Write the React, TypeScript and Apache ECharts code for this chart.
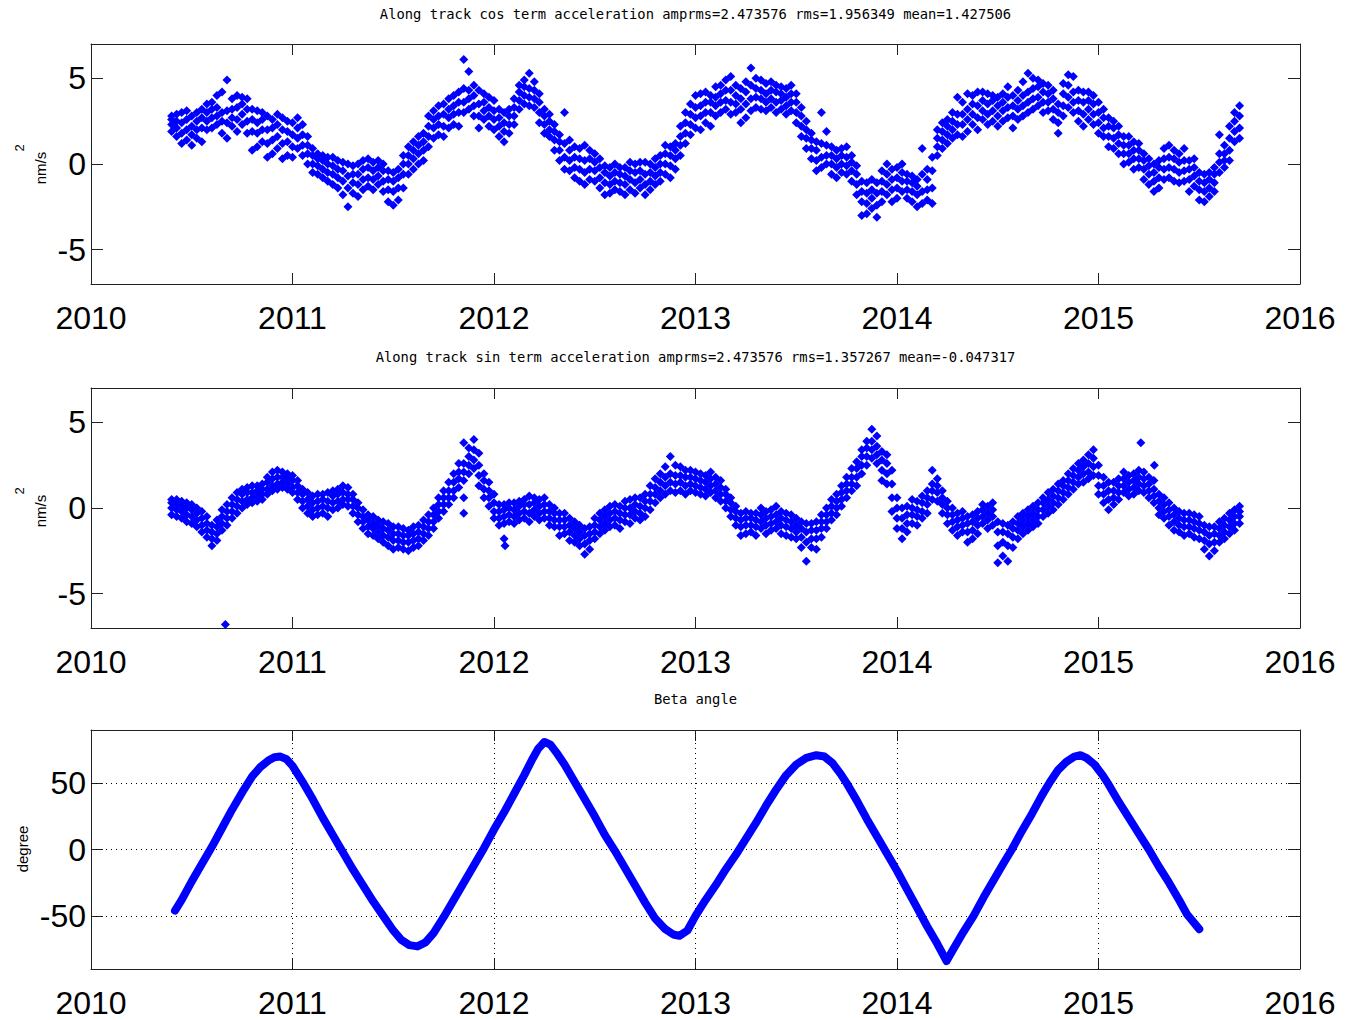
import React, { useEffect, useRef } from "react";
import * as echarts from "echarts";

const X_MIN = 2010;
const X_MAX = 2016;
const YEAR_GRID = [2011, 2012, 2013, 2014, 2015];
const ACC_TICKS = [-5, 0, 5];
const BETA_TICKS = [-50, 0, 50];
const TITLES = [
  "Along track cos term acceleration amprms=2.473576 rms=1.956349 mean=1.427506",
  "Along track sin term acceleration amprms=2.473576 rms=1.357267 mean=-0.047317",
  "Beta angle",
];

// [time, v1, v2, v3, v4] : points
const COS_ROWS: number[][] = [
  [2010.400, 1.9, 2.3, 2.6, 2.8], [2010.425, 1.6, 2.1, 2.5, 2.9], [2010.450, 1.2, 1.8, 2.4, 3.0],
  [2010.475, 1.4, 2.0, 2.6, 3.1], [2010.500, 1.1, 1.7, 2.2, 2.8], [2010.525, 1.5, 2.0, 2.5, 3.0],
  [2010.550, 1.3, 2.1, 2.7, 3.2], [2010.575, 2.0, 2.5, 3.0, 3.5], [2010.600, 2.1, 2.7, 3.2, 3.6],
  [2010.625, 2.3, 2.8, 3.3, 4.0], [2010.650, 1.8, 2.5, 3.0, 4.2], [2010.675, 1.5, 2.4, 3.1, 4.9],
  [2010.700, 2.2, 2.7, 3.2, 3.8], [2010.725, 1.9, 2.6, 3.3, 4.0], [2010.750, 2.3, 2.9, 3.5, 3.9],
  [2010.775, 1.8, 2.5, 3.2, 3.8], [2010.800, 0.8, 1.9, 2.6, 3.2], [2010.825, 1.0, 1.8, 2.4, 3.1],
  [2010.850, 1.3, 2.0, 2.6, 3.0], [2010.875, 0.4, 1.2, 2.0, 2.8], [2010.900, 0.6, 1.4, 2.1, 2.6],
  [2010.925, 0.9, 1.6, 2.3, 2.9], [2010.950, 0.3, 1.2, 2.0, 2.7], [2010.975, 0.5, 1.3, 1.9, 2.5],
  [2011.000, 0.4, 1.0, 1.7, 2.4], [2011.025, 0.9, 1.5, 2.1, 2.7], [2011.050, 0.5, 1.1, 1.7, 2.3],
  [2011.075, 0.0, 0.6, 1.1, 1.6], [2011.100, -0.5, 0.0, 0.5, 0.9], [2011.125, -0.6, -0.1, 0.3, 0.6],
  [2011.150, -0.8, -0.3, 0.2, 0.5], [2011.175, -1.0, -0.5, 0.0, 0.4], [2011.200, -1.2, -0.6, -0.1, 0.4],
  [2011.225, -1.4, -0.8, -0.3, 0.2], [2011.250, -1.8, -1.0, -0.4, 0.1], [2011.275, -2.5, -1.4, -0.7, 0.0],
  [2011.300, -1.7, -1.1, -0.6, -0.1], [2011.325, -1.9, -1.2, -0.6, 0.0], [2011.350, -1.5, -0.9, -0.3, 0.2],
  [2011.375, -1.3, -0.8, -0.2, 0.3], [2011.400, -1.5, -0.9, -0.4, 0.1], [2011.425, -1.2, -0.7, -0.2, 0.2],
  [2011.450, -1.6, -1.0, -0.4, 0.0], [2011.475, -2.2, -1.5, -0.9, -0.4], [2011.500, -2.4, -1.6, -1.0, -0.5],
  [2011.525, -2.1, -1.4, -0.8, -0.3], [2011.550, -1.4, -0.6, 0.0, 0.5], [2011.575, -0.6, 0.0, 0.5, 1.0],
  [2011.600, -0.3, 0.3, 0.8, 1.3], [2011.625, 0.0, 0.6, 1.1, 1.6], [2011.650, 0.2, 0.8, 1.3, 1.8],
  [2011.675, 1.0, 1.6, 2.2, 2.8], [2011.700, 1.5, 2.1, 2.6, 3.1], [2011.725, 1.7, 2.3, 2.8, 3.4],
  [2011.750, 1.6, 2.2, 2.9, 3.5], [2011.775, 2.1, 2.7, 3.2, 3.8], [2011.800, 2.3, 2.9, 3.4, 4.0],
  [2011.825, 2.2, 3.0, 3.6, 4.2], [2011.850, 3.0, 3.6, 4.4, 6.1], [2011.875, 3.2, 3.8, 4.3, 5.4],
  [2011.900, 2.8, 3.4, 4.0, 4.6], [2011.925, 2.1, 2.8, 3.5, 4.3], [2011.950, 2.6, 3.1, 3.6, 4.1],
  [2011.975, 2.2, 2.8, 3.3, 3.9], [2012.000, 2.0, 2.6, 3.1, 3.7], [2012.025, 1.6, 2.2, 2.7, 3.2],
  [2012.050, 1.3, 1.9, 2.4, 3.0], [2012.075, 1.8, 2.3, 2.8, 3.2], [2012.100, 2.3, 2.8, 3.3, 3.8],
  [2012.125, 3.2, 3.7, 4.2, 4.6], [2012.150, 3.5, 4.0, 4.5, 4.9], [2012.175, 3.4, 3.9, 4.4, 5.3],
  [2012.200, 3.3, 3.8, 4.3, 4.8], [2012.225, 2.4, 3.0, 3.6, 4.1], [2012.250, 1.8, 2.3, 2.8, 3.2],
  [2012.275, 1.6, 2.0, 2.5, 2.9], [2012.300, 0.8, 1.4, 1.9, 2.3], [2012.325, 0.2, 0.8, 1.3, 1.7],
  [2012.350, -0.3, 0.4, 1.2, 3.0], [2012.375, -0.4, 0.2, 0.8, 1.4], [2012.400, -0.8, -0.2, 0.4, 1.0],
  [2012.425, -1.0, -0.3, 0.3, 0.9], [2012.450, -1.2, -0.5, 0.2, 1.1], [2012.475, -0.9, -0.3, 0.3, 0.8],
  [2012.500, -1.0, -0.4, 0.1, 0.6], [2012.525, -1.4, -0.8, -0.2, 0.3], [2012.550, -1.8, -1.1, -0.5, -0.1],
  [2012.575, -1.7, -1.2, -0.7, -0.2], [2012.600, -1.5, -1.0, -0.5, 0.0], [2012.625, -1.6, -1.1, -0.6, -0.2],
  [2012.650, -1.8, -1.2, -0.7, -0.2], [2012.675, -1.5, -0.9, -0.4, 0.1], [2012.700, -1.7, -1.1, -0.5, 0.0],
  [2012.725, -1.4, -0.9, -0.4, 0.1], [2012.750, -1.8, -1.2, -0.6, 0.1], [2012.775, -1.5, -1.0, -0.5, 0.0],
  [2012.800, -1.2, -0.7, -0.2, 0.3], [2012.825, -1.0, -0.5, 0.0, 0.5], [2012.850, -0.6, 0.0, 0.6, 1.1],
  [2012.875, -0.8, -0.1, 0.5, 1.0], [2012.900, -0.3, 0.3, 0.8, 1.2], [2012.925, 0.5, 1.1, 1.6, 2.2],
  [2012.950, 1.2, 1.8, 2.4, 3.0], [2012.975, 1.7, 2.3, 2.9, 3.5], [2013.000, 2.1, 2.7, 3.3, 4.0],
  [2013.025, 2.0, 2.8, 3.4, 4.1], [2013.050, 2.4, 3.0, 3.6, 4.2], [2013.075, 2.2, 3.0, 3.6, 4.0],
  [2013.100, 2.8, 3.4, 3.9, 4.5], [2013.125, 3.0, 3.6, 4.1, 4.6], [2013.150, 3.2, 3.7, 4.3, 4.9],
  [2013.175, 2.9, 3.6, 4.3, 5.1], [2013.200, 3.0, 3.5, 4.0, 4.6], [2013.225, 2.4, 3.2, 3.8, 4.4],
  [2013.250, 2.7, 3.5, 4.2, 4.8], [2013.275, 3.1, 3.8, 4.6, 5.6], [2013.300, 3.3, 3.9, 4.4, 5.0],
  [2013.325, 3.2, 3.8, 4.3, 4.9], [2013.350, 3.1, 3.6, 4.1, 4.7], [2013.375, 3.3, 3.8, 4.3, 4.8],
  [2013.400, 3.0, 3.6, 4.2, 4.6], [2013.425, 3.2, 3.7, 4.1, 4.5], [2013.450, 2.9, 3.4, 3.9, 4.4],
  [2013.475, 3.1, 3.6, 4.1, 4.6], [2013.500, 2.4, 3.0, 3.6, 4.1], [2013.525, 1.6, 2.2, 2.8, 3.3],
  [2013.550, 0.9, 1.5, 2.0, 2.5], [2013.575, 0.3, 0.9, 1.4, 1.8], [2013.600, -0.4, 0.2, 0.8, 1.3],
  [2013.625, -0.2, 0.4, 1.2, 3.0], [2013.650, 0.0, 0.5, 1.1, 1.9], [2013.675, -0.6, 0.0, 0.5, 1.0],
  [2013.700, -0.8, -0.2, 0.3, 0.8], [2013.725, -0.5, 0.0, 0.5, 0.9], [2013.750, -0.6, -0.1, 0.4, 1.0],
  [2013.775, -1.0, -0.4, 0.1, 0.5], [2013.800, -1.8, -1.2, -0.6, -0.1], [2013.825, -3.0, -2.2, -1.6, -1.0],
  [2013.850, -2.9, -2.3, -1.7, -1.1], [2013.875, -2.6, -2.0, -1.5, -0.9], [2013.900, -3.1, -2.4, -1.7, -1.1],
  [2013.925, -2.2, -1.6, -1.0, -0.4], [2013.950, -1.8, -1.2, -0.6, 0.0], [2013.975, -2.2, -1.5, -0.9, -0.3],
  [2014.000, -2.0, -1.4, -0.8, -0.2], [2014.025, -1.6, -1.0, -0.5, 0.0], [2014.050, -2.0, -1.5, -1.0, -0.6],
  [2014.075, -2.2, -1.6, -1.1, -0.7], [2014.100, -2.5, -1.8, -1.3, -0.9], [2014.125, -2.3, -1.6, -0.6, 0.9],
  [2014.150, -2.1, -1.5, -0.9, -0.3], [2014.175, -2.3, -1.4, -0.4, 0.4], [2014.200, 0.5, 1.0, 1.5, 2.0],
  [2014.225, 0.9, 1.4, 1.9, 2.4], [2014.250, 1.2, 1.7, 2.2, 2.6], [2014.275, 1.5, 2.0, 2.5, 3.0],
  [2014.300, 1.7, 2.3, 2.9, 3.9], [2014.325, 1.6, 2.3, 2.9, 3.6], [2014.350, 1.9, 2.6, 3.2, 4.1],
  [2014.375, 2.3, 2.9, 3.5, 4.0], [2014.400, 2.0, 2.7, 3.4, 4.2], [2014.425, 2.6, 3.1, 3.7, 4.2],
  [2014.450, 2.3, 2.9, 3.5, 4.1], [2014.475, 2.5, 3.1, 3.7, 4.0], [2014.500, 2.2, 2.8, 3.4, 3.9],
  [2014.525, 2.5, 3.1, 3.6, 4.1], [2014.550, 2.7, 3.3, 3.9, 4.5], [2014.575, 2.1, 2.8, 3.4, 4.0],
  [2014.600, 2.6, 3.2, 3.7, 4.3], [2014.625, 2.8, 3.4, 4.0, 4.8], [2014.650, 3.0, 3.6, 4.2, 5.3],
  [2014.675, 3.2, 3.8, 4.4, 5.0], [2014.700, 3.4, 3.9, 4.5, 4.9], [2014.725, 3.0, 3.6, 4.2, 4.7],
  [2014.750, 3.1, 3.6, 4.1, 4.6], [2014.775, 2.6, 3.2, 3.8, 4.3], [2014.800, 1.8, 2.4, 3.0, 3.5],
  [2014.825, 2.8, 3.4, 4.1, 4.7], [2014.850, 3.3, 3.9, 4.6, 5.2], [2014.875, 3.0, 3.6, 4.2, 5.1],
  [2014.900, 2.5, 3.1, 3.7, 4.3], [2014.925, 2.2, 2.9, 3.6, 4.2], [2014.950, 2.6, 3.2, 3.7, 4.2],
  [2014.975, 2.3, 2.9, 3.5, 4.0], [2015.000, 1.8, 2.4, 3.0, 3.6], [2015.025, 1.6, 2.1, 2.7, 3.2],
  [2015.050, 1.0, 1.6, 2.2, 2.7], [2015.075, 0.9, 1.5, 2.1, 2.5], [2015.100, 0.6, 1.2, 1.7, 2.2],
  [2015.125, 0.0, 0.6, 1.1, 1.6], [2015.150, 0.1, 0.6, 1.1, 1.6], [2015.175, -0.3, 0.3, 0.8, 1.3],
  [2015.200, -0.2, 0.3, 0.8, 1.2], [2015.225, -0.9, -0.3, 0.2, 0.6], [2015.250, -1.2, -0.6, -0.1, 0.3],
  [2015.275, -1.6, -1.0, -0.5, 0.0], [2015.300, -1.4, -0.8, -0.2, 0.2], [2015.325, -0.9, -0.3, 0.3, 0.9],
  [2015.350, -0.8, -0.2, 0.4, 1.1], [2015.375, -1.0, -0.3, 0.3, 0.8], [2015.400, -1.1, -0.5, 0.1, 0.6],
  [2015.425, -1.0, -0.4, 0.2, 0.9], [2015.450, -1.6, -0.9, -0.3, 0.2], [2015.475, -1.3, -0.7, -0.2, 0.3],
  [2015.500, -2.1, -1.5, -1.0, -0.5], [2015.525, -2.2, -1.6, -1.1, -0.6], [2015.550, -1.9, -1.4, -0.9, -0.5],
  [2015.575, -1.6, -1.1, -0.6, -0.2], [2015.600, -0.5, 0.1, 0.6, 1.7], [2015.625, -0.2, 0.2, 0.6, 1.1],
  [2015.650, 0.2, 0.8, 1.5, 2.2], [2015.675, 1.3, 1.9, 2.5, 3.0], [2015.700, 1.5, 2.1, 2.8, 3.4],
];

// [time, v1, v2, v3, v4] : points
const SIN_ROWS: number[][] = [
  [2010.400, -0.4, 0.0, 0.3, 0.5], [2010.425, -0.5, -0.1, 0.2, 0.5], [2010.450, -0.6, -0.2, 0.1, 0.4],
  [2010.475, -0.8, -0.4, 0.0, 0.3], [2010.500, -0.9, -0.5, -0.1, 0.2], [2010.525, -1.1, -0.7, -0.3, 0.0],
  [2010.550, -1.4, -1.0, -0.6, -0.2], [2010.575, -1.7, -1.3, -0.9, -0.5], [2010.600, -2.2, -1.8, -1.4, -1.0],
  [2010.625, -1.9, -1.5, -1.1, -0.7], [2010.650, -1.3, -0.9, -0.5, -0.1], [2010.675, -1.0, -0.6, -0.2, 0.2],
  [2010.700, -0.6, -0.2, 0.2, 0.6], [2010.725, -0.3, 0.1, 0.5, 0.9], [2010.750, 0.0, 0.4, 0.8, 1.1],
  [2010.775, 0.2, 0.5, 0.9, 1.2], [2010.800, 0.3, 0.6, 0.9, 1.3], [2010.825, 0.4, 0.7, 1.0, 1.3],
  [2010.850, 0.5, 0.8, 1.1, 1.4], [2010.875, 0.8, 1.1, 1.5, 1.8], [2010.900, 1.0, 1.3, 1.7, 2.1],
  [2010.925, 1.1, 1.4, 1.8, 2.2], [2010.950, 1.2, 1.5, 1.8, 2.1], [2010.975, 1.1, 1.4, 1.7, 2.0],
  [2011.000, 0.9, 1.2, 1.6, 1.9], [2011.025, 0.5, 0.9, 1.3, 1.6], [2011.050, 0.0, 0.4, 0.8, 1.1],
  [2011.075, -0.3, 0.1, 0.5, 0.9], [2011.100, -0.5, -0.1, 0.3, 0.7], [2011.125, -0.4, 0.0, 0.4, 0.8],
  [2011.150, -0.3, 0.1, 0.5, 0.8], [2011.175, -0.5, 0.0, 0.4, 0.9], [2011.200, -0.1, 0.3, 0.7, 1.0],
  [2011.225, 0.0, 0.4, 0.8, 1.1], [2011.250, 0.2, 0.5, 0.9, 1.3], [2011.275, 0.1, 0.5, 0.8, 1.2],
  [2011.300, -0.3, 0.1, 0.5, 0.8], [2011.325, -0.8, -0.4, 0.0, 0.3], [2011.350, -1.2, -0.8, -0.5, -0.1],
  [2011.375, -1.5, -1.1, -0.7, -0.4], [2011.400, -1.6, -1.2, -0.9, -0.5], [2011.425, -1.8, -1.4, -1.0, -0.7],
  [2011.450, -2.0, -1.6, -1.2, -0.8], [2011.475, -2.2, -1.7, -1.3, -0.9], [2011.500, -2.4, -1.9, -1.5, -1.1],
  [2011.525, -2.3, -1.9, -1.5, -1.1], [2011.550, -2.4, -2.0, -1.6, -1.2], [2011.575, -2.5, -2.0, -1.6, -1.3],
  [2011.600, -2.3, -1.9, -1.5, -1.1], [2011.625, -2.2, -1.8, -1.4, -1.0], [2011.650, -1.9, -1.5, -1.1, -0.7],
  [2011.675, -1.6, -1.2, -0.8, -0.4], [2011.700, -1.2, -0.8, -0.4, 0.0], [2011.725, -0.6, -0.2, 0.2, 0.6],
  [2011.750, -0.2, 0.2, 0.6, 1.0], [2011.775, 0.2, 0.6, 1.0, 1.5], [2011.800, 0.6, 1.0, 1.5, 2.0],
  [2011.825, 1.2, 1.7, 2.1, 2.6], [2011.850, 1.6, 2.1, 2.6, 3.8], [2011.875, 2.0, 2.5, 3.0, 3.5],
  [2011.900, 2.3, 2.8, 3.4, 4.0], [2011.925, 1.3, 1.9, 2.5, 3.2], [2011.950, 0.6, 1.1, 1.6, 2.0],
  [2011.975, 0.1, 0.6, 1.0, 1.5], [2012.000, -0.6, -0.2, 0.3, 0.8], [2012.025, -1.0, -0.6, -0.2, 0.2],
  [2012.050, -0.9, -0.5, -0.1, 0.2], [2012.075, -0.8, -0.4, 0.0, 0.3], [2012.100, -0.9, -0.5, -0.1, 0.3],
  [2012.125, -0.7, -0.3, 0.1, 0.4], [2012.150, -0.6, -0.2, 0.2, 0.5], [2012.175, -0.8, -0.3, 0.2, 0.7],
  [2012.200, -0.5, -0.1, 0.3, 0.6], [2012.225, -0.7, -0.3, 0.1, 0.5], [2012.250, -0.6, -0.2, 0.2, 0.6],
  [2012.275, -1.0, -0.6, -0.2, 0.2], [2012.300, -1.1, -0.7, -0.3, 0.0], [2012.325, -1.6, -1.1, -0.7, -0.3],
  [2012.350, -1.5, -1.1, -0.7, -0.3], [2012.375, -1.9, -1.4, -1.0, -0.6], [2012.400, -2.0, -1.6, -1.2, -0.8],
  [2012.425, -2.2, -1.8, -1.4, -1.0], [2012.450, -2.7, -2.1, -1.6, -1.2], [2012.475, -2.4, -1.9, -1.5, -1.1],
  [2012.500, -1.8, -1.4, -1.0, -0.6], [2012.525, -1.5, -1.1, -0.7, -0.3], [2012.550, -1.3, -0.9, -0.5, -0.1],
  [2012.575, -1.1, -0.7, -0.3, 0.1], [2012.600, -1.0, -0.6, -0.2, 0.2], [2012.625, -1.2, -0.7, -0.3, 0.1],
  [2012.650, -0.8, -0.4, 0.0, 0.4], [2012.675, -0.9, -0.4, 0.0, 0.5], [2012.700, -0.6, -0.2, 0.2, 0.6],
  [2012.725, -0.7, -0.3, 0.1, 0.6], [2012.750, -0.5, 0.0, 0.4, 0.8], [2012.775, -0.1, 0.4, 0.8, 1.3],
  [2012.800, 0.3, 0.8, 1.2, 1.7], [2012.825, 0.6, 1.0, 1.5, 2.0], [2012.850, 0.8, 1.3, 1.8, 2.4],
  [2012.875, 1.0, 1.5, 2.0, 3.0], [2012.900, 0.9, 1.4, 1.9, 2.5], [2012.925, 1.0, 1.5, 1.9, 2.4],
  [2012.950, 0.8, 1.3, 1.8, 2.2], [2012.975, 1.0, 1.4, 1.8, 2.2], [2013.000, 0.9, 1.3, 1.7, 2.1],
  [2013.025, 0.8, 1.2, 1.6, 2.0], [2013.050, 0.7, 1.1, 1.5, 1.9], [2013.075, 0.9, 1.3, 1.7, 2.1],
  [2013.100, 0.6, 1.0, 1.4, 1.8], [2013.125, 0.4, 0.8, 1.2, 1.6], [2013.150, 0.0, 0.4, 0.8, 1.1],
  [2013.175, -0.5, -0.1, 0.3, 0.6], [2013.200, -1.0, -0.6, -0.2, 0.1], [2013.225, -1.6, -1.1, -0.7, -0.3],
  [2013.250, -1.5, -1.0, -0.6, -0.2], [2013.275, -1.4, -1.0, -0.6, -0.3], [2013.300, -1.6, -1.1, -0.7, -0.3],
  [2013.325, -1.2, -0.8, -0.4, 0.0], [2013.350, -1.5, -1.0, -0.6, -0.2], [2013.375, -1.3, -0.9, -0.5, -0.1],
  [2013.400, -1.2, -0.8, -0.4, 0.1], [2013.425, -1.5, -1.0, -0.6, -0.2], [2013.450, -1.6, -1.1, -0.7, -0.3],
  [2013.475, -1.7, -1.2, -0.8, -0.4], [2013.500, -1.8, -1.4, -1.0, -0.6], [2013.525, -2.3, -1.7, -1.2, -0.8],
  [2013.550, -3.1, -2.0, -1.4, -0.9], [2013.575, -2.3, -1.8, -1.3, -0.9], [2013.600, -2.4, -1.8, -1.3, -0.8],
  [2013.625, -1.7, -1.2, -0.8, -0.4], [2013.650, -1.2, -0.8, -0.4, 0.0], [2013.675, -0.7, -0.3, 0.1, 0.5],
  [2013.700, -0.4, 0.0, 0.4, 0.8], [2013.725, 0.1, 0.5, 0.9, 1.3], [2013.750, 0.6, 1.0, 1.4, 1.8],
  [2013.775, 1.0, 1.4, 1.8, 2.3], [2013.800, 1.3, 1.8, 2.3, 2.7], [2013.825, 2.0, 2.5, 3.0, 3.4],
  [2013.850, 2.5, 3.0, 3.5, 3.9], [2013.875, 2.9, 3.4, 3.9, 4.6], [2013.900, 2.6, 3.1, 3.6, 4.2],
  [2013.925, 1.6, 2.2, 2.8, 3.3], [2013.950, 1.4, 2.0, 2.6, 3.1], [2013.975, -0.2, 0.6, 1.4, 2.2],
  [2014.000, -1.2, -0.6, 0.0, 0.6], [2014.025, -1.8, -1.2, -0.6, 0.0], [2014.050, -1.4, -0.9, -0.4, 0.1],
  [2014.075, -0.9, -0.4, 0.0, 0.5], [2014.100, -1.0, -0.5, -0.1, 0.4], [2014.125, -0.6, -0.2, 0.3, 0.7],
  [2014.150, -0.3, 0.2, 0.6, 1.0], [2014.175, 0.5, 1.0, 1.4, 2.2], [2014.200, 0.4, 0.9, 1.3, 1.7],
  [2014.225, -0.3, 0.2, 0.6, 1.0], [2014.250, -0.9, -0.4, 0.0, 0.4], [2014.275, -1.3, -0.8, -0.4, 0.0],
  [2014.300, -1.6, -1.1, -0.7, -0.3], [2014.325, -1.4, -1.0, -0.6, -0.2], [2014.350, -2.0, -1.4, -0.9, -0.5],
  [2014.375, -1.8, -1.3, -0.8, -0.4], [2014.400, -1.5, -1.0, -0.6, -0.2], [2014.425, -0.9, -0.5, -0.1, 0.2],
  [2014.450, -1.2, -0.7, -0.3, 0.1], [2014.475, -1.0, -0.5, -0.1, 0.3], [2014.500, -3.2, -2.2, -1.4, -0.8],
  [2014.525, -2.8, -2.0, -1.4, -0.9], [2014.550, -3.1, -2.2, -1.5, -1.0], [2014.575, -2.3, -1.7, -1.2, -0.8],
  [2014.600, -1.8, -1.3, -0.9, -0.5], [2014.625, -1.5, -1.1, -0.7, -0.3], [2014.650, -1.3, -0.9, -0.5, -0.1],
  [2014.675, -1.1, -0.7, -0.3, 0.1], [2014.700, -0.9, -0.5, -0.1, 0.3], [2014.725, -0.5, -0.1, 0.3, 0.6],
  [2014.750, -0.3, 0.1, 0.5, 0.9], [2014.775, -0.1, 0.3, 0.7, 1.1], [2014.800, 0.2, 0.6, 1.0, 1.4],
  [2014.825, 0.5, 0.9, 1.3, 1.6], [2014.850, 0.8, 1.2, 1.6, 2.0], [2014.875, 1.1, 1.5, 1.9, 2.3],
  [2014.900, 1.4, 1.8, 2.2, 2.6], [2014.925, 1.5, 2.0, 2.4, 2.8], [2014.950, 1.7, 2.1, 2.6, 3.1],
  [2014.975, 1.9, 2.4, 2.9, 3.4], [2015.000, 0.8, 1.3, 1.9, 2.5], [2015.025, 0.3, 0.8, 1.3, 1.8],
  [2015.050, -0.1, 0.5, 1.0, 1.5], [2015.075, 0.2, 0.6, 1.0, 1.5], [2015.100, 0.5, 0.9, 1.3, 1.7],
  [2015.125, 0.9, 1.3, 1.7, 2.1], [2015.150, 0.7, 1.1, 1.5, 1.9], [2015.175, 0.8, 1.2, 1.6, 2.0],
  [2015.200, 1.0, 1.4, 1.8, 2.2], [2015.225, 0.9, 1.3, 1.7, 2.1], [2015.250, 0.6, 1.0, 1.4, 1.8],
  [2015.275, 0.3, 0.7, 1.1, 1.6], [2015.300, -0.4, 0.0, 0.4, 0.8], [2015.325, -0.6, -0.2, 0.2, 0.6],
  [2015.350, -1.0, -0.5, -0.1, 0.3], [2015.375, -1.3, -0.8, -0.4, 0.0], [2015.400, -1.4, -1.0, -0.6, -0.2],
  [2015.425, -1.6, -1.1, -0.7, -0.3], [2015.450, -1.5, -1.1, -0.7, -0.3], [2015.475, -1.7, -1.2, -0.8, -0.4],
  [2015.500, -1.8, -1.3, -0.9, -0.5], [2015.525, -2.4, -1.9, -1.4, -1.0], [2015.550, -2.8, -2.1, -1.6, -1.1],
  [2015.575, -2.5, -2.0, -1.5, -1.1], [2015.600, -2.0, -1.6, -1.2, -0.8], [2015.625, -1.8, -1.4, -1.0, -0.6],
  [2015.650, -1.5, -1.1, -0.7, -0.3], [2015.675, -1.3, -0.9, -0.5, -0.1], [2015.700, -0.9, -0.5, -0.2, 0.1],
];

// isolated points of the sin-term panel
const SIN_OUTLIERS: number[][] = [
  [2010.667, -6.8], [2011.850, -0.3], [2011.850, 0.6], [2012.050, -1.8],
  [2012.055, -2.2], [2015.210, 3.8], [2015.277, 2.5],
];

// [time, degrees] : beta angle curve
const BETA: number[][] = [
  [2010.417, -46], [2010.45, -38], [2010.5, -24], [2010.55, -11], [2010.6, 2], [2010.65, 16],
  [2010.7, 30], [2010.75, 43], [2010.8, 55], [2010.84, 62], [2010.88, 67], [2010.91, 69.5],
  [2010.94, 70], [2010.97, 68], [2011.0, 63], [2011.05, 51], [2011.1, 38], [2011.15, 24],
  [2011.2, 11], [2011.25, -2], [2011.3, -15], [2011.35, -27], [2011.4, -39], [2011.45, -50],
  [2011.5, -61], [2011.54, -68], [2011.58, -72], [2011.62, -73], [2011.66, -70], [2011.7, -63],
  [2011.75, -51], [2011.8, -38], [2011.85, -25], [2011.9, -12], [2011.95, 1], [2012.0, 15],
  [2012.05, 28], [2012.1, 42], [2012.15, 56], [2012.19, 68], [2012.22, 76], [2012.25, 81],
  [2012.28, 79], [2012.31, 73], [2012.35, 64], [2012.4, 51], [2012.45, 38], [2012.5, 25],
  [2012.55, 11], [2012.6, -1], [2012.65, -14], [2012.7, -27], [2012.75, -40], [2012.8, -52],
  [2012.85, -60], [2012.89, -64], [2012.92, -65], [2012.96, -61], [2013.0, -50], [2013.05, -38],
  [2013.1, -27], [2013.15, -15], [2013.2, -4], [2013.25, 8], [2013.3, 20], [2013.35, 33],
  [2013.4, 45], [2013.45, 56], [2013.5, 64], [2013.55, 69], [2013.6, 71], [2013.64, 70],
  [2013.68, 65], [2013.72, 57], [2013.75, 50], [2013.8, 37], [2013.85, 23], [2013.9, 10],
  [2013.95, -3], [2014.0, -16], [2014.05, -30], [2014.1, -44], [2014.15, -58], [2014.2, -71],
  [2014.246, -84], [2014.28, -75], [2014.33, -62], [2014.38, -50], [2014.43, -36], [2014.48, -23],
  [2014.53, -10], [2014.57, 0], [2014.62, 14], [2014.67, 27], [2014.72, 41], [2014.76, 51],
  [2014.8, 60], [2014.84, 66], [2014.88, 70], [2014.91, 71], [2014.94, 69], [2014.98, 64],
  [2015.02, 56], [2015.05, 49], [2015.1, 36], [2015.15, 24], [2015.2, 12], [2015.25, 0],
  [2015.3, -13], [2015.35, -25], [2015.4, -38], [2015.44, -49], [2015.5, -60],
];

const BLUE = "#0000ff";
const FRAME = "#222222";
const LABEL_FONT = "'Liberation Sans', Arial, Helvetica, sans-serif";
const TITLE_FONT = "'DejaVu Sans Mono', 'Liberation Mono', monospace";

function expandRows(rows: number[][]): number[][] {
  const out: number[][] = [];
  rows.forEach((r) => {
    for (let k = 1; k < r.length; k++) out.push([r[0], r[k]]);
  });
  return out;
}

function xAxis(gridIndex: number, position: string, showLabels: boolean) {
  return {
    type: "value",
    gridIndex,
    position,
    min: X_MIN,
    max: X_MAX,
    interval: 1,
    axisLine: { show: true, onZero: false, lineStyle: { color: FRAME, width: 1 } },
    axisTick: { show: true, inside: true, length: 11, lineStyle: { color: FRAME, width: 1 } },
    axisLabel: {
      show: showLabels,
      formatter: (v: number) => String(v),
      fontSize: 32,
      fontFamily: LABEL_FONT,
      color: "#000",
      margin: 18,
    },
    splitLine: { show: false },
  };
}

function yAxis(gridIndex: number, position: string, min: number, max: number, ticks: number[], showLabels: boolean) {
  return {
    type: "value",
    gridIndex,
    position,
    min,
    max,
    axisLine: { show: true, onZero: false, lineStyle: { color: FRAME, width: 1 } },
    axisTick: { show: true, inside: true, length: 12, customValues: ticks, lineStyle: { color: FRAME, width: 1 } },
    axisLabel: {
      show: showLabels,
      customValues: ticks,
      formatter: (v: number) => String(v),
      fontSize: 32,
      fontFamily: LABEL_FONT,
      color: "#000",
      margin: 5,
    },
    splitLine: { show: false },
  };
}

export default function App() {
  const ref = useRef<HTMLDivElement>(null);

  useEffect(() => {
    if (!ref.current) return;
    const chart = echarts.init(ref.current, null, { renderer: "svg" });

    const cosData = expandRows(COS_ROWS);
    const sinData = expandRows(SIN_ROWS).concat(SIN_OUTLIERS);

    const gridLines = [
      ...BETA_TICKS.map((v) => ({ yAxis: v })),
      ...YEAR_GRID.map((v) => ({ xAxis: v })),
    ];

    const titleText = (text: string, y: number) => ({
      type: "text",
      x: 695.5,
      y,
      style: {
        text,
        fontFamily: TITLE_FONT,
        fontSize: 13.8,
        fill: "#000",
        align: "center",
        verticalAlign: "middle",
      },
    });
    const vText = (text: string, x: number, y: number, size: number) => ({
      type: "text",
      x,
      y,
      rotation: Math.PI / 2,
      style: {
        text,
        fontFamily: LABEL_FONT,
        fontSize: size,
        fill: "#000",
        align: "center",
        verticalAlign: "middle",
      },
    });

    const scatterStyle = {
      symbol: "diamond",
      symbolSize: 9,
      itemStyle: { color: BLUE, opacity: 1 },
      silent: true,
    };

    chart.setOption({
      animation: false,
      backgroundColor: "#ffffff",
      grid: [
        { left: 91, right: 45, top: 44, height: 240 },
        { left: 91, right: 45, top: 388, height: 240 },
        { left: 91, right: 45, top: 730, height: 239 },
      ],
      xAxis: [
        xAxis(0, "bottom", true),
        xAxis(0, "top", false),
        xAxis(1, "bottom", true),
        xAxis(1, "top", false),
        xAxis(2, "bottom", true),
        xAxis(2, "top", false),
      ],
      yAxis: [
        yAxis(0, "left", -7, 7, ACC_TICKS, true),
        yAxis(0, "right", -7, 7, ACC_TICKS, false),
        yAxis(1, "left", -7, 7, ACC_TICKS, true),
        yAxis(1, "right", -7, 7, ACC_TICKS, false),
        yAxis(2, "left", -90, 90, BETA_TICKS, true),
        yAxis(2, "right", -90, 90, BETA_TICKS, false),
      ],
      graphic: [
        titleText(TITLES[0], 14),
        titleText(TITLES[1], 357),
        titleText(TITLES[2], 699),
        vText("nm/s", 40, 168, 15),
        vText("2", 19, 148, 13),
        vText("nm/s", 40, 511, 15),
        vText("2", 19, 491, 13),
        vText("degree", 22, 849, 15),
      ],
      series: [
        { type: "scatter", xAxisIndex: 0, yAxisIndex: 0, data: cosData, ...scatterStyle },
        { type: "scatter", xAxisIndex: 2, yAxisIndex: 2, data: sinData, ...scatterStyle },
        {
          type: "line",
          xAxisIndex: 4,
          yAxisIndex: 4,
          data: [],
          silent: true,
          z: 1,
          markLine: {
            silent: true,
            z: 1,
            symbol: "none",
            label: { show: false },
            lineStyle: { color: "#000", width: 1, type: [1, 4] },
            data: gridLines,
          },
        },
        {
          type: "line",
          xAxisIndex: 4,
          yAxisIndex: 4,
          data: BETA,
          showSymbol: false,
          symbol: "none",
          z: 3,
          lineStyle: { color: BLUE, width: 8, cap: "round", join: "round" },
          silent: true,
        },
      ],
    });

    return () => chart.dispose();
  }, []);

  return (
    <div
      ref={ref}
      style={{ position: "fixed", left: 0, top: 0, width: 1345, height: 1020, background: "#fff" }}
    />
  );
}
